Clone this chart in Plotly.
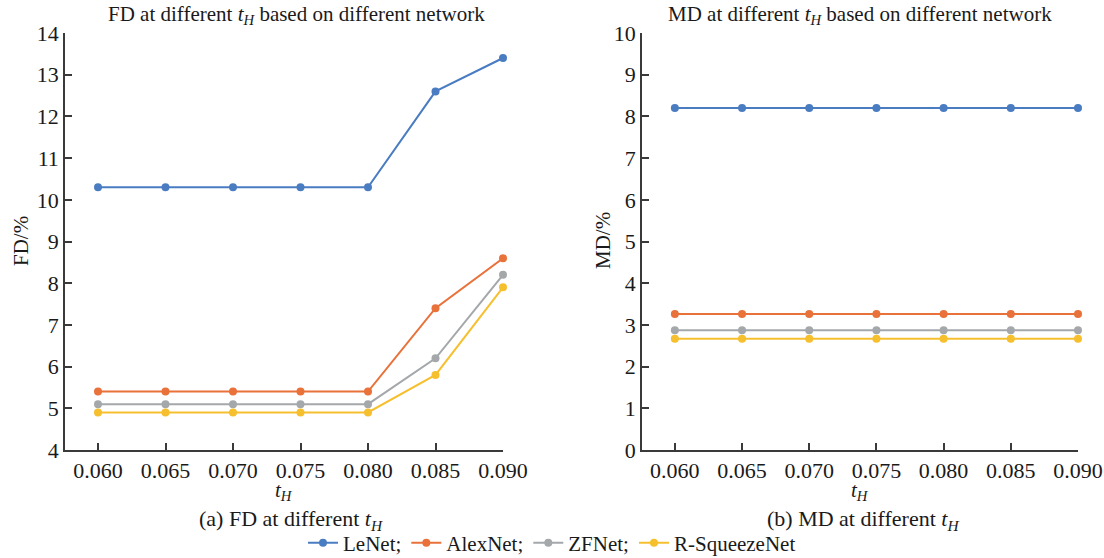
import plotly.graph_objects as go

th = [0.060, 0.065, 0.070, 0.075, 0.080, 0.085, 0.090]
tick_labels = ["0.060", "0.065", "0.070", "0.075", "0.080", "0.085", "0.090"]
networks = ["LeNet;", "AlexNet;", "ZFNet;", "R-SqueezeNet"]
fd_lenet = [10.3, 10.3, 10.3, 10.3, 10.3, 12.6, 13.4]
fd_alexnet = [5.4, 5.4, 5.4, 5.4, 5.4, 7.4, 8.6]
fd_zfnet = [5.1, 5.1, 5.1, 5.1, 5.1, 6.2, 8.2]
fd_rsq = [4.9, 4.9, 4.9, 4.9, 4.9, 5.8, 7.9]
md_lenet = [8.2] * 7
md_alexnet = [3.26] * 7
md_zfnet = [2.87] * 7
md_rsq = [2.67] * 7

colors = ["#4a7cc2", "#e9713a", "#a5a8ab", "#f6bf2e"]
FONT = "Liberation Serif, Times New Roman, serif"
TXT = "#1a1a1a"

fig = go.Figure()
fd = [fd_lenet, fd_alexnet, fd_zfnet, fd_rsq]
md = [md_lenet, md_alexnet, md_zfnet, md_rsq]
for i, name in enumerate(networks):
    fig.add_trace(go.Scatter(x=th, y=fd[i], mode="lines+markers", name=name,
                             line=dict(color=colors[i], width=2),
                             marker=dict(color=colors[i], size=8),
                             cliponaxis=False, legendgroup=name,
                             xaxis="x", yaxis="y"))
for i, name in enumerate(networks):
    fig.add_trace(go.Scatter(x=th, y=md[i], mode="lines+markers", name=name,
                             line=dict(color=colors[i], width=2),
                             marker=dict(color=colors[i], size=8),
                             cliponaxis=False, legendgroup=name, showlegend=False,
                             xaxis="x2", yaxis="y2"))

W, H = 1104, 558
def px(x):
    return x / W
def py(y):
    return 1 - y / H

axis_common = dict(showline=True, linecolor="#3a3a3a", linewidth=1.5,
                   ticks="inside", ticklen=7, tickwidth=1.5, tickcolor="#3a3a3a",
                   showgrid=False, zeroline=False,
                   tickfont=dict(family=FONT, size=22, color=TXT))
xr = [0.060 - 33 / 67.5 * 0.005, 0.090]

fig.update_layout(
    width=W, height=H,
    margin=dict(l=0, r=0, t=0, b=0, autoexpand=False),
    paper_bgcolor="white", plot_bgcolor="white",
    font=dict(family=FONT, color=TXT),
    xaxis=dict(domain=[px(65), px(503)], range=xr, tickvals=th, ticktext=tick_labels,
               anchor="y", automargin=False, **axis_common),
    yaxis=dict(domain=[py(450), py(33)], range=[4, 14], dtick=1, anchor="x",
               automargin=False, **axis_common),
    xaxis2=dict(domain=[px(642), px(1078)], range=xr, tickvals=th, ticktext=tick_labels,
                anchor="y2", automargin=False, **axis_common),
    yaxis2=dict(domain=[py(450), py(33)], range=[0, 10], dtick=1, anchor="x2",
                automargin=False, **axis_common),
    legend=dict(orientation="h", x=0.5, xanchor="center", y=py(543), yanchor="middle",
                font=dict(family=FONT, size=21, color=TXT),
                itemwidth=30, tracegroupgap=0),
    showlegend=True,
)

ann = [
    dict(x=px(296), y=py(15), text="FD at different <i>t<sub>H</sub></i> based on different network", size=21),
    dict(x=px(860), y=py(15), text="MD at different <i>t<sub>H</sub></i> based on different network", size=21),
    dict(x=px(284), y=py(491), text="<i>t<sub>H</sub></i>", size=21),
    dict(x=px(860), y=py(491), text="<i>t<sub>H</sub></i>", size=21),
    dict(x=px(291), y=py(520), text="(a) FD at different <i>t<sub>H</sub></i>", size=22),
    dict(x=px(863), y=py(520), text="(b) MD at different <i>t<sub>H</sub></i>", size=22),
]
for a in ann:
    fig.add_annotation(x=a["x"], y=a["y"], xref="paper", yref="paper", text=a["text"],
                       showarrow=False, xanchor="center", yanchor="middle",
                       font=dict(family=FONT, size=a["size"], color=TXT))
fig.add_annotation(x=px(21), y=py(241), xref="paper", yref="paper", text="FD/%",
                   textangle=-90, showarrow=False, xanchor="center", yanchor="middle",
                   font=dict(family=FONT, size=21, color=TXT))
fig.add_annotation(x=px(603), y=py(241), xref="paper", yref="paper", text="MD/%",
                   textangle=-90, showarrow=False, xanchor="center", yanchor="middle",
                   font=dict(family=FONT, size=21, color=TXT))

fig.write_html("out.html", config={"displayModeBar": False},
               post_script="document.body.style.margin='0';")
